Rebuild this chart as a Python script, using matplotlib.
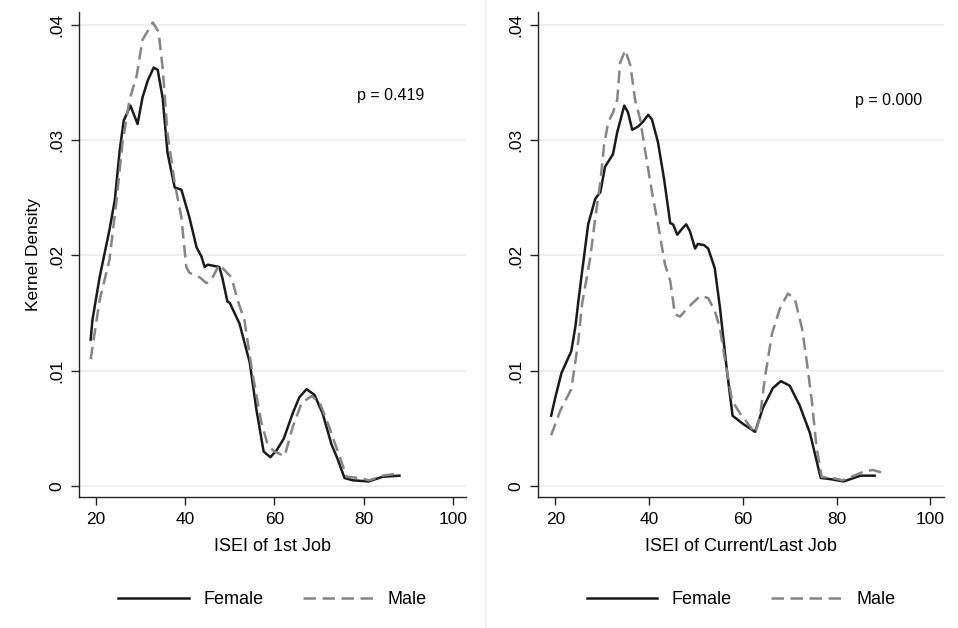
import matplotlib
matplotlib.use("Agg")
import matplotlib.pyplot as plt
from matplotlib.lines import Line2D

plt.rcParams['font.family'] = ['Liberation Sans', 'DejaVu Sans']

# ISEI of 1st job
f1_x = [18.9, 19.3, 20.9, 23.1, 24.3, 25.4, 26.3, 27.8, 29.4, 30.5,
        31.7, 33.0, 33.9, 35.0, 36.1, 37.7, 39.2, 41.0, 42.6, 43.7,
        44.4, 45.1, 47.7, 48.4, 49.5, 50.0, 52.2, 54.5, 56.0, 57.6,
        59.1, 60.5, 62.1, 64.1, 65.6, 67.2, 69.0, 70.8, 72.8, 74.1,
        75.7, 77.5, 81.1, 84.2, 88.0]
f1_y = [.0127, .0144, .0181, .0222, .0248, .0291, .0317, .0330, .0314, .0337,
        .0352, .0363, .0361, .0337, .0289, .0259, .0257, .0233, .0207, .0199,
        .0190, .0192, .0190, .0180, .0160, .0159, .0141, .0107, .0066, .0030,
        .0025, .0031, .0041, .0063, .0077, .0084, .0079, .0063, .0036, .0024,
        .0007, .0005, .0004, .0008, .0009]
m1_x = [18.9, 20.9, 23.1, 24.7, 26.0, 27.6, 29.2, 30.5, 32.8, 34.1,
        35.0, 36.1, 37.7, 39.2, 40.3, 41.0, 43.3, 44.8, 45.9, 47.7,
        50.4, 51.8, 53.3, 55.1, 57.1, 58.5, 60.0, 62.3, 64.1, 66.1,
        68.3, 70.1, 72.3, 74.1, 76.2, 79.1, 81.3, 84.2, 88.0]
m1_y = [.0110, .0161, .0196, .0248, .0297, .0335, .0356, .0387, .0402, .0394,
        .0363, .0306, .0263, .0233, .0190, .0185, .0181, .0176, .0179, .0192,
        .0181, .0161, .0144, .0098, .0055, .0036, .0030, .0026, .0051, .0072,
        .0078, .0073, .0051, .0031, .0008, .0007, .0005, .0009, .0011]

# ISEI of current/last job
f2_x = [19.1, 20.0, 21.3, 23.4, 24.3, 24.9, 25.7, 27.0, 28.5, 29.6,
        30.6, 31.7, 32.3, 33.2, 34.7, 35.5, 36.4, 37.7, 38.7, 39.8,
        40.6, 41.9, 43.2, 44.5, 45.1, 46.0, 47.0, 47.9, 48.7, 49.8,
        50.4, 51.7, 52.6, 54.0, 55.1, 56.6, 57.8, 60.0, 62.6, 64.3,
        66.4, 68.1, 70.0, 72.1, 74.3, 76.6, 78.7, 81.5, 85.1, 88.1]
f2_y = [.0061, .0077, .0098, .0117, .0139, .0160, .0186, .0227, .0249, .0255,
        .0277, .0284, .0288, .0307, .0330, .0324, .0309, .0312, .0316, .0322,
        .0318, .0298, .0266, .0228, .0227, .0218, .0223, .0227, .0221, .0206,
        .0210, .0209, .0206, .0189, .0155, .0100, .0061, .0054, .0047, .0068,
        .0085, .0091, .0087, .0070, .0046, .0007, .0006, .0004, .0009, .0009]
m2_x = [19.1, 21.1, 23.4, 24.3, 24.9, 25.7, 27.4, 28.5, 29.6, 30.4,
        31.3, 32.3, 33.2, 33.8, 34.9, 36.0, 37.0, 38.1, 39.1, 40.6,
        41.9, 43.4, 44.5, 45.5, 46.6, 48.1, 49.1, 50.4, 51.1, 52.6,
        54.0, 55.1, 56.2, 57.7, 59.4, 61.1, 62.6, 63.6, 64.7, 66.2,
        67.9, 69.6, 71.1, 72.6, 73.6, 74.7, 75.7, 76.8, 79.1, 81.3,
        85.5, 87.7, 90.2]
m2_y = [.0044, .0066, .0084, .0109, .0126, .0158, .0197, .0232, .0264, .0296,
        .0316, .0324, .0335, .0367, .0378, .0365, .0335, .0318, .0292, .0255,
        .0227, .0192, .0178, .0149, .0147, .0154, .0158, .0163, .0165, .0163,
        .0152, .0137, .0109, .0074, .0063, .0054, .0046, .0059, .0094, .0132,
        .0154, .0167, .0162, .0137, .0109, .0074, .0034, .0008, .0007, .0005,
        .0012, .0014, .0011]

xticks = [20, 40, 60, 80, 100]
yticks = [0, .01, .02, .03, .04]
ytick_labels = ['0', '.01', '.02', '.03', '.04']
xlabels = ['ISEI of 1st Job', 'ISEI of Current/Last Job']
pvalues = ['p = 0.419', 'p = 0.000']

fig = plt.figure(figsize=(9.58, 6.28), dpi=100)
ax1 = fig.add_axes([0.0825, 0.2086, 0.404, 0.772])
ax2 = fig.add_axes([0.5616, 0.2086, 0.4238, 0.772])

panels = [(ax1, f1_x, f1_y, m1_x, m1_y, 78.4, 0.0339),
          (ax2, f2_x, f2_y, m2_x, m2_y, 84.0, 0.0334)]

for i, (ax, fx, fy, mx, my, px, py) in enumerate(panels):
    ax.plot(fx, fy, color='#1a1a1a', lw=1.8, label='Female', zorder=3,
            solid_joinstyle='round')
    ax.plot(mx, my, color='#858585', lw=1.8, dashes=(5, 2.6),
            label='Male', zorder=3)
    ax.set_xlim(16.3, 102.9)
    ax.set_ylim(-0.00095, 0.0411)
    ax.set_xticks(xticks)
    ax.set_yticks(yticks)
    ax.set_yticklabels(ytick_labels, rotation=90, va='center')
    ax.grid(axis='y', color='#e6eef1', lw=1.2)
    ax.set_axisbelow(True)
    for s in ['top', 'right']:
        ax.spines[s].set_visible(False)
    for s in ['left', 'bottom']:
        ax.spines[s].set_color('#222222')
        ax.spines[s].set_linewidth(1.0)
    ax.tick_params(direction='out', length=5.5, width=1.0, color='#222222',
                   labelsize=12.5, pad=5)
    ax.set_xlabel(xlabels[i], fontsize=13, labelpad=8)
    ax.text(px, py, pvalues[i], fontsize=11.5, ha='left', va='center')
    ax.legend(loc='upper center', bbox_to_anchor=(0.5, -0.16), ncol=2,
              frameon=False, fontsize=13, handlelength=3.9,
              handletextpad=0.8, columnspacing=2.2)

ax1.set_ylabel('Kernel Density', fontsize=12.5, labelpad=6)

# faint separator between the two panels
fig.add_artist(Line2D([0.506, 0.506], [0.0, 1.0], color='#eef3f5', lw=1.0))

fig.savefig('out.png', dpi=100)
